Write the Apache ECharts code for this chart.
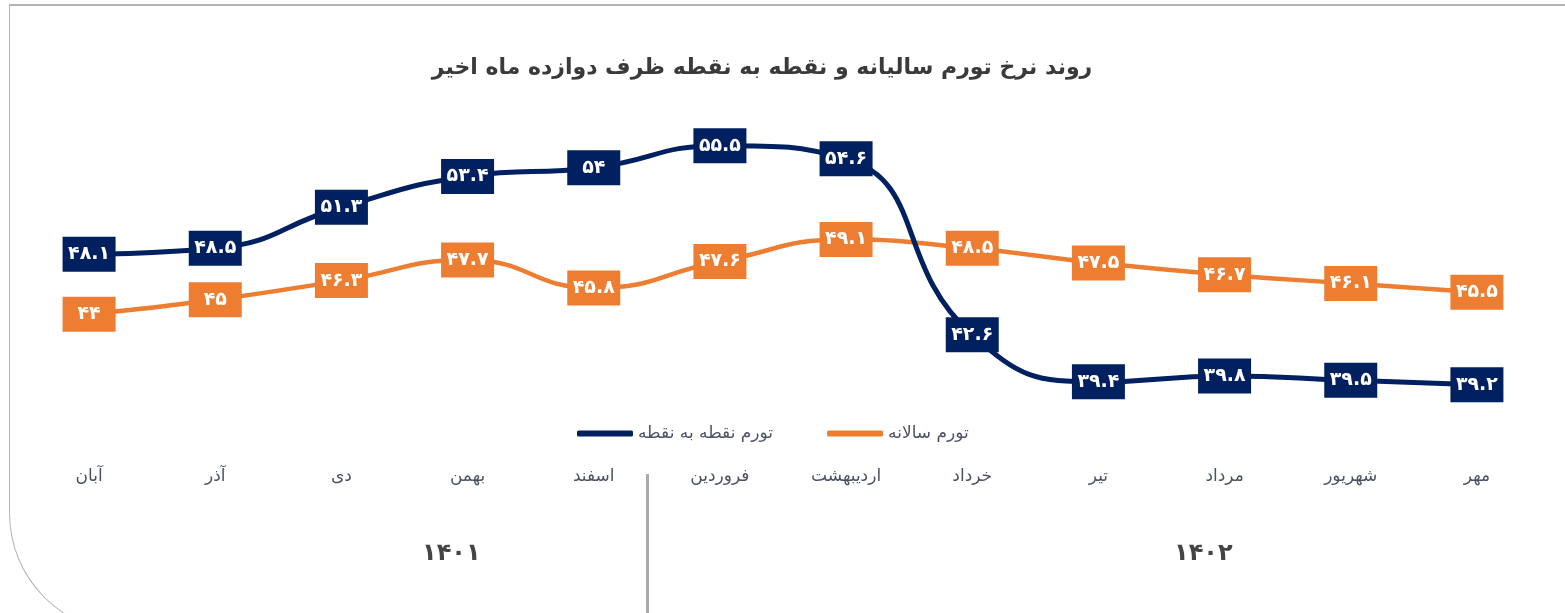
<!DOCTYPE html>
<html>
<head>
<meta charset="utf-8">
<script src="https://cdn.jsdelivr.net/npm/echarts@6/dist/echarts.min.js"></script>
<style>
  html, body { margin: 0; padding: 0; background: #fff; overflow: hidden; }
  .frame {
    position: absolute; left: 9px; top: 4px; width: 1600px; height: 629px;
    border-top: 2px solid #b4b4b4; border-left: 1px solid #b4b4b4;
    border-bottom: 1px solid #b4b4b4;
    border-bottom-left-radius: 120px; box-sizing: border-box;
  }
  #chart { position: absolute; left: 0; top: 0; width: 1565px; height: 613px; }
</style>
</head>
<body>
<div class="frame"></div>
<div id="chart"></div>
<script>
const months = ['آبان', 'آذر', 'دی', 'بهمن', 'اسفند', 'فروردین', 'اردیبهشت', 'خرداد', 'تیر', 'مرداد', 'شهریور', 'مهر']
const pointToPoint = [48.1, 48.5, 51.3, 53.4, 54, 55.5, 54.6, 42.6, 39.4, 39.8, 39.5, 39.2]
const annual = [44, 45, 46.3, 47.7, 45.8, 47.6, 49.1, 48.5, 47.5, 46.7, 46.1, 45.5]
const years = ['۱۴۰۱', '۱۴۰۲']

const faDigits = '۰۱۲۳۴۵۶۷۸۹'
const toFa = v => String(v).replace(/\d/g, d => faDigits[d])

const chart = echarts.init(document.getElementById('chart'))

const labelStyle = color => ({
  show: true,
  position: 'inside',
  formatter: p => toFa(p.value),
  color: '#fff',
  fontFamily: 'DejaVu Sans',
  fontWeight: 'bold',
  fontSize: 19,
  lineHeight: 20,
  backgroundColor: color,
  padding: [8, 7, 7, 7],
  width: 39,
  align: 'center'
})

const option = {
  animation: false,
  textStyle: { fontFamily: 'DejaVu Sans' },
  title: {
    text: 'روند نرخ تورم سالیانه و نقطه به نقطه ظرف دوازده ماه اخیر',
    left: 757,
    top: 52,
    textAlign: 'center',
    textStyle: { fontSize: 22, fontWeight: 'bold', color: '#3a3a3a', fontFamily: 'DejaVu Sans' }
  },
  legend: {
    data: ['تورم نقطه به نقطه', 'تورم سالانه'],
    left: 572,
    top: 420,
    icon: 'roundRect',
    itemWidth: 56,
    itemHeight: 6,
    itemGap: 54,
    textStyle: { fontSize: 17, color: '#4a5263', fontFamily: 'DejaVu Sans' }
  },
  grid: { left: 26, right: 25, top: 109, bottom: 152 },
  xAxis: {
    type: 'category',
    data: months,
    boundaryGap: true,
    axisLine: { show: false },
    axisTick: { show: false },
    axisLabel: { color: '#4a5263', fontSize: 17, margin: 7, fontFamily: 'DejaVu Sans' }
  },
  yAxis: {
    type: 'value',
    min: 34,
    max: 58,
    show: false,
    splitLine: { show: false }
  },
  series: [
    {
      name: 'تورم نقطه به نقطه',
      type: 'line',
      data: pointToPoint,
      smooth: 0.5,
      symbol: 'circle',
      symbolSize: 2,
      itemStyle: { color: '#002060' },
      lineStyle: { width: 5, color: '#002060' },
      label: labelStyle('#002060'),
      z: 3
    },
    {
      name: 'تورم سالانه',
      type: 'line',
      data: annual,
      smooth: 0.5,
      symbol: 'circle',
      symbolSize: 2,
      itemStyle: { color: '#ED7D31' },
      lineStyle: { width: 4.5, color: '#ED7D31' },
      label: labelStyle('#ED7D31'),
      z: 2
    }
  ],
  graphic: [
    {
      type: 'rect',
      shape: { x: 646, y: 474, width: 3, height: 139 },
      style: { fill: '#ababab' }
    },
    {
      type: 'text',
      left: 422,
      top: 542,
      style: { text: years[0], fontSize: 24, fontWeight: 'bold', fill: '#444', fontFamily: 'DejaVu Sans' }
    },
    {
      type: 'text',
      left: 1174,
      top: 542,
      style: { text: years[1], fontSize: 24, fontWeight: 'bold', fill: '#444', fontFamily: 'DejaVu Sans' }
    }
  ]
}

chart.setOption(option)
</script>
</body>
</html>
